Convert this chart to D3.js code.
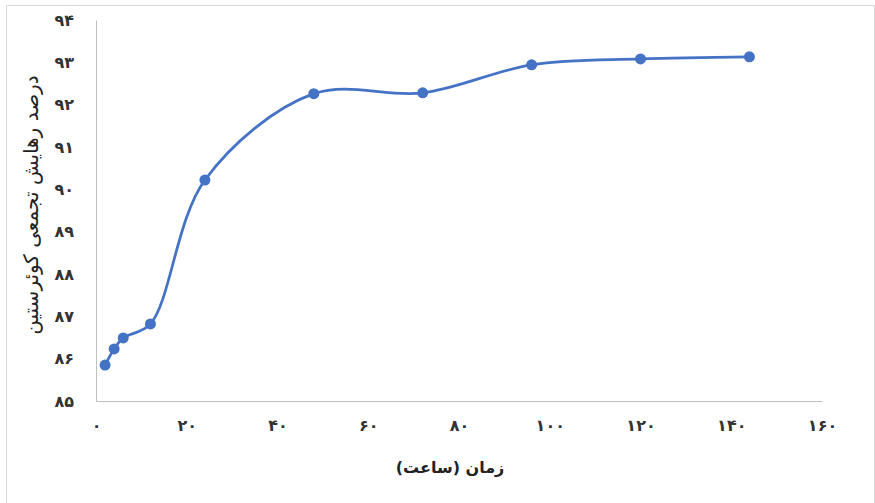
<!DOCTYPE html>
<html>
<head>
<meta charset="utf-8">
<script src="https://cdn.jsdelivr.net/npm/d3@7"></script>
<style>
  html, body { margin: 0; padding: 0; background: #fff; }
  svg { display: block; }
  .tick text { font-family: "DejaVu Sans", sans-serif; font-weight: bold; fill: #333; }
</style>
</head>
<body>
<div id="chart"></div>
<script>
"use strict";

// ==========  Data  ==========
var hours    = [2, 4, 6, 12, 24, 48, 72, 96, 120, 144]
var release  = [85.85, 86.23, 86.49, 86.82, 90.22, 92.26, 92.28, 92.94, 93.08, 93.13]
var xTicks   = [0, 20, 40, 60, 80, 100, 120, 140, 160]
var yTicks   = [85, 86, 87, 88, 89, 90, 91, 92, 93, 94]
var xTitle   = "زمان (ساعت)"
var yTitle   = "درصد رهایش تجمعی کوئرستین"

// ==========  Helpers  ==========
var persianDigits = "۰۱۲۳۴۵۶۷۸۹"
var toPersian = function(n) {
  return String(n).replace(/[0-9]/g, function(d) { return persianDigits[+d] })
}

// ==========  Chart  ==========
var width  = 875
var height = 503
var margin = { top: 20, right: 53, bottom: 102, left: 96 }

var svg = d3.select('#chart').append('svg')
  .attr('width', width)
  .attr('height', height)

// outer chart frame
svg.append('rect')
  .attr('x', 6.5).attr('y', 5.5)
  .attr('width', width - 7).attr('height', height)
  .attr('fill', 'none')
  .attr('stroke', '#d9d9d9')

var x = d3.scaleLinear().domain([0, 160]).range([margin.left, width - margin.right])
var y = d3.scaleLinear().domain([85, 94]).range([height - margin.bottom, margin.top])

var xAxis = d3.axisBottom(x).tickValues(xTicks).tickSize(0).tickPadding(19).tickFormat(toPersian)
var yAxis = d3.axisLeft(y).tickValues(yTicks).tickSize(0).tickPadding(22).tickFormat(toPersian)

var gx = svg.append('g')
  .attr('transform', 'translate(0,' + y(85) + ')')
  .call(xAxis)
gx.select('.domain').attr('stroke', '#bfbfbf')
gx.selectAll('.tick text').style('font-size', '16px')

var gy = svg.append('g')
  .attr('transform', 'translate(' + x(0) + ',0)')
  .call(yAxis)
gy.select('.domain').attr('stroke', '#bfbfbf')
gy.selectAll('.tick text').style('font-size', '16px')

// smoothed line, like a spreadsheet "smooth line" series
var points = hours.map(function(h, i) { return [h, release[i]] })
var line = d3.line()
  .x(function(d) { return x(d[0]) })
  .y(function(d) { return y(d[1]) })
  .curve(d3.curveCatmullRom.alpha(0.5))

svg.append('path')
  .datum(points)
  .attr('d', line)
  .attr('fill', 'none')
  .attr('stroke', '#4472c4')
  .attr('stroke-width', 2.75)

svg.selectAll('circle.marker')
  .data(points)
  .enter().append('circle')
  .classed('marker', true)
  .attr('cx', function(d) { return x(d[0]) })
  .attr('cy', function(d) { return y(d[1]) })
  .attr('r', 5.5)
  .attr('fill', '#4472c4')

// axis titles
svg.append('text')
  .attr('x', 450).attr('y', 473)
  .attr('text-anchor', 'middle')
  .attr('direction', 'rtl')
  .style('font-family', '"DejaVu Sans", sans-serif')
  .style('font-weight', 'bold')
  .style('font-size', '16px')
  .attr('fill', '#222')
  .text(xTitle)

svg.append('text')
  .attr('transform', 'translate(38,' + 205 + ') rotate(-90)')
  .attr('text-anchor', 'middle')
  .attr('direction', 'rtl')
  .style('font-family', '"DejaVu Sans", sans-serif')
  .style('font-size', '20px')
  .attr('fill', '#222')
  .text(yTitle)
</script>
</body>
</html>
